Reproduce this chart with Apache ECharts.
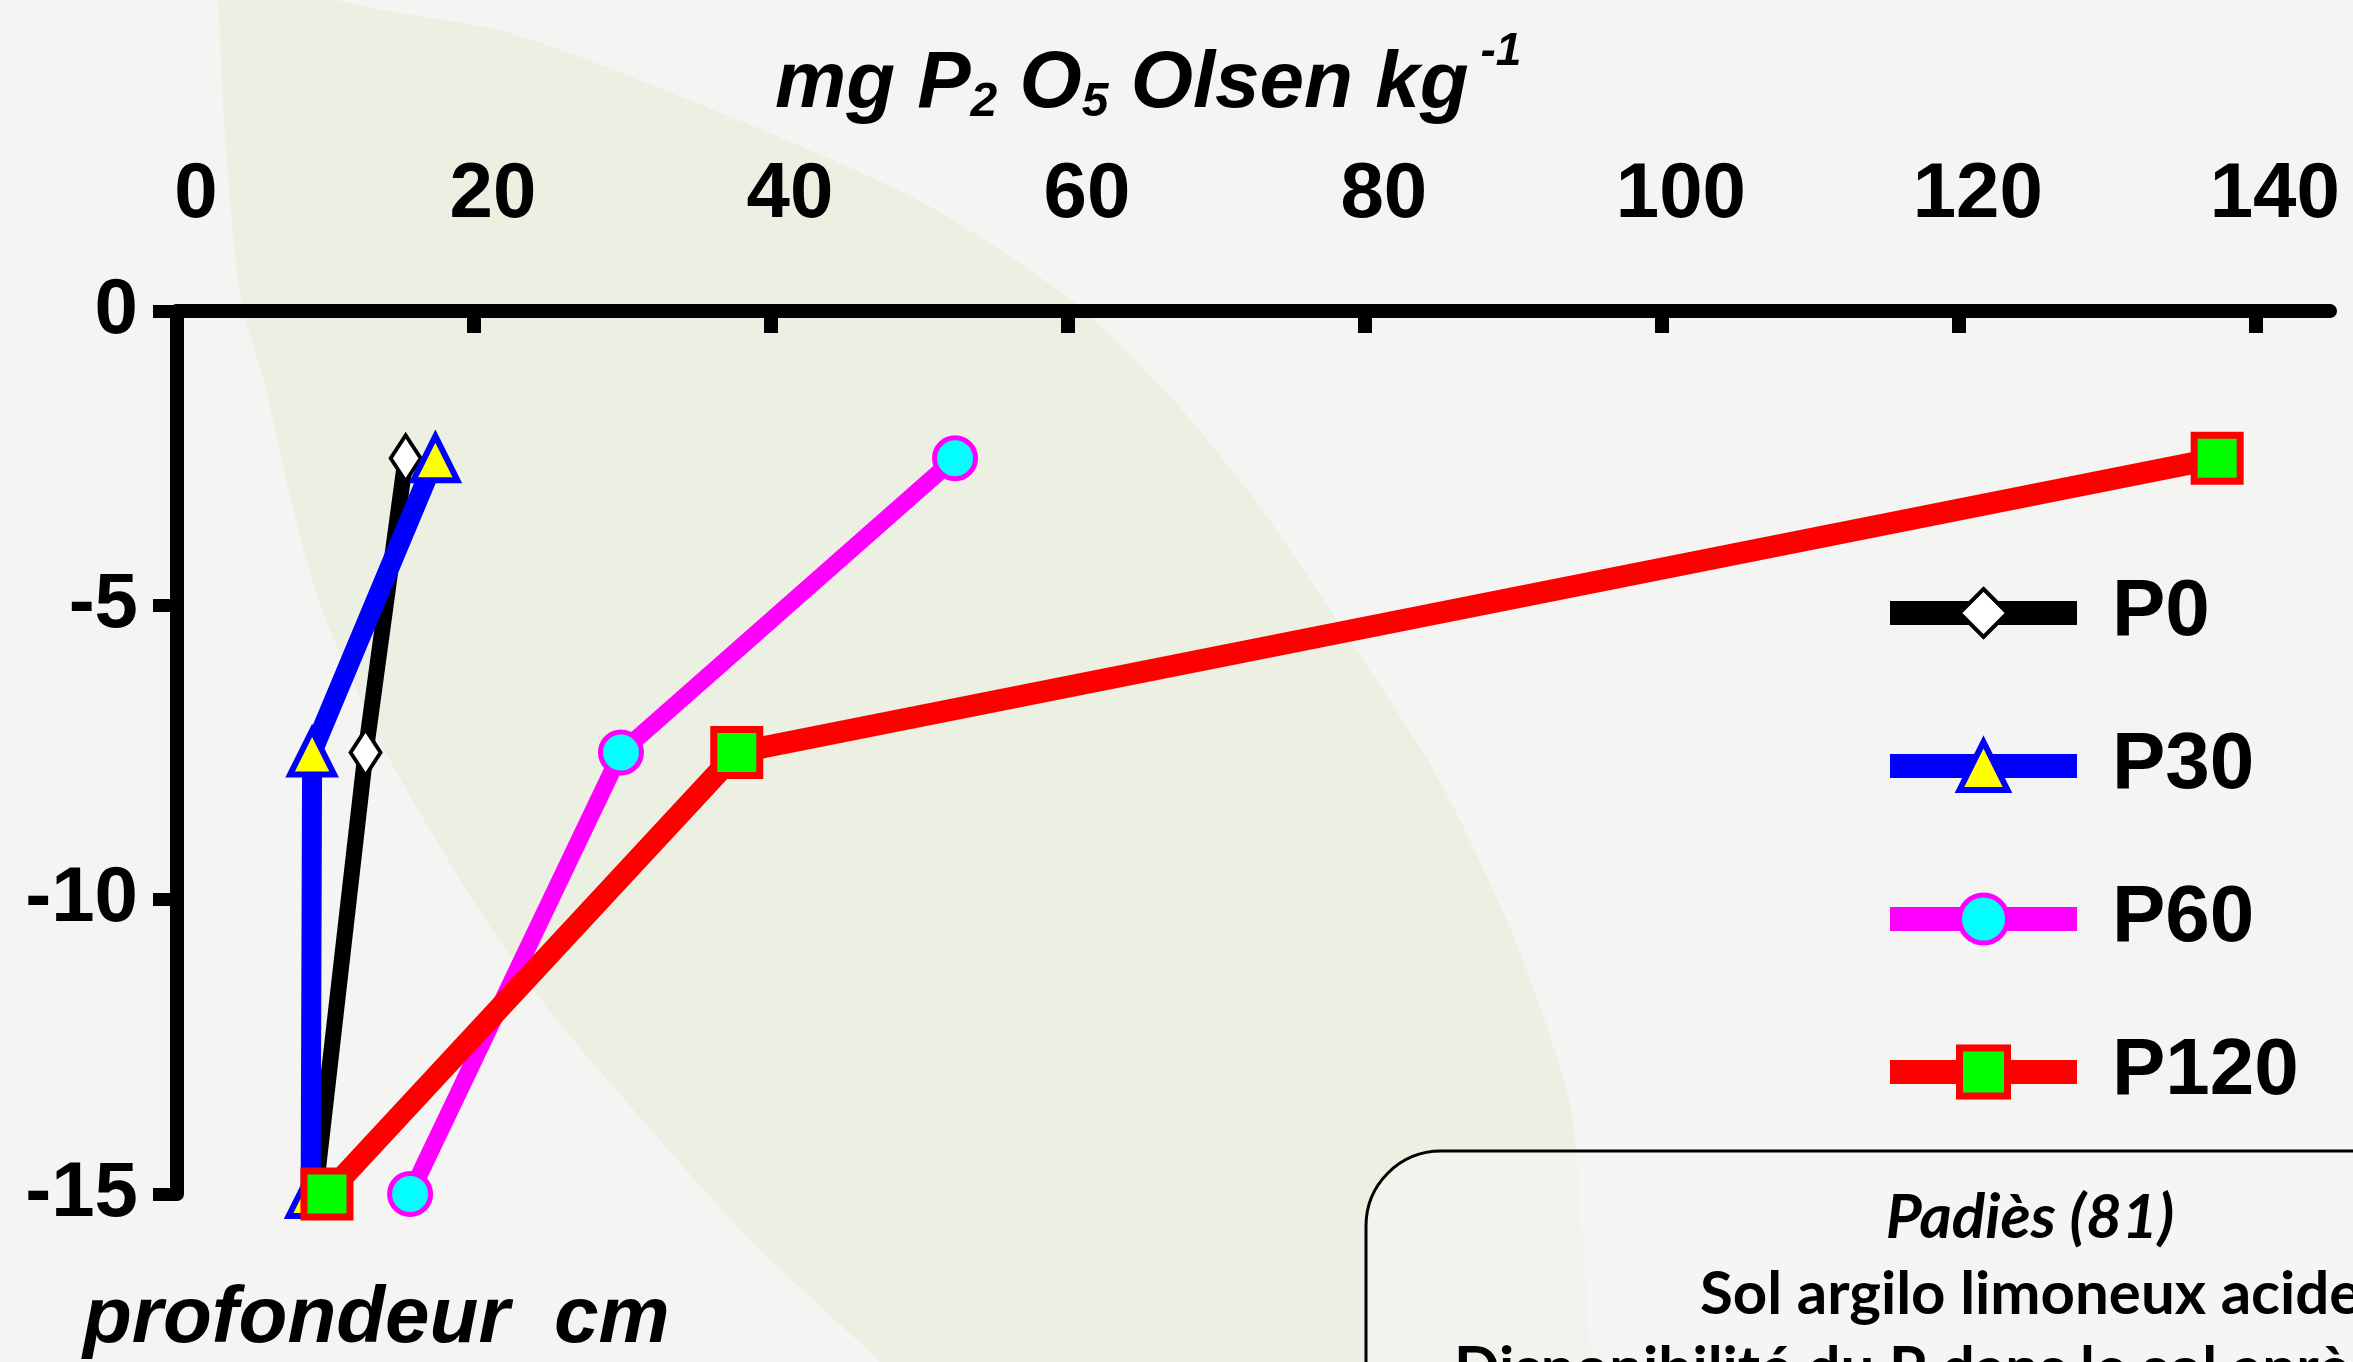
<!DOCTYPE html>
<html>
<head>
<meta charset="utf-8">
<title>P Olsen - profondeur</title>
<script src="https://cdn.jsdelivr.net/npm/echarts@6/dist/echarts.min.js"></script>
<style>
  html, body { margin: 0; padding: 0; background: #f4f4f3; }
  #chart { width: 2353px; height: 1362px; }
</style>
</head>
<body>
<div id="chart"></div>
<script>
// profondeurs de prélèvement (cm)
const depths = [-2.5, -7.5, -15]
// P2O5 Olsen (mg/kg) par traitement
const p0 = [15.4, 12.7, 9.3]
const p30 = [17.4, 9.1, 9.0]
const p60 = [52.4, 29.9, 15.7]
const p120 = [137.4, 37.7, 10.1]
const seriesNames = ['P0', 'P30', 'P60', 'P120']
const xTickValues = [0, 20, 40, 60, 80, 100, 120, 140]

const FONT = 'Liberation Sans'

const toPoints = (vals) => depths.map((d, i) => [vals[i], d])

// feuille verte en fond (décor)
const leaf = [
  [216, -40], [218, 0], [226, 150], [241, 300], [265, 385], [291, 500], [322, 610],
  [390, 760], [471, 897], [545, 1005], [625, 1100], [750, 1240], [880, 1362], [930, 1420],
  [1600, 1420], [1592, 1362], [1582, 1230], [1569, 1100], [1515, 940], [1439, 780],
  [1350, 640], [1255, 500], [1173, 400], [1071, 300], [918, 200], [714, 110],
  [510, 33], [337, 0], [270, -40]
]

const chart = echarts.init(document.getElementById('chart'))

const option = {
  animation: false,
  backgroundColor: '#f4f4f3',
  title: [
    {
      text: '{t|mg P}{sub|2}{t| O}{sub|5}{t| Olsen kg}{sup|-1}',
      left: 775,
      top: 35,
      padding: 0,
      textStyle: {
        rich: {
          t: { fontFamily: FONT, fontSize: 80, fontWeight: 'bold', fontStyle: 'italic', color: '#000', lineHeight: 100 },
          sub: { fontFamily: FONT, fontSize: 48, fontWeight: 'bold', fontStyle: 'italic', color: '#000', lineHeight: 50, padding: [36, 0, 0, 0] },
          sup: { fontFamily: FONT, fontSize: 46, fontWeight: 'bold', fontStyle: 'italic', color: '#000', lineHeight: 30, padding: [0, 0, 66, 12] }
        }
      }
    }
  ],
  graphic: [
    {
      type: 'polygon',
      z: -10,
      silent: true,
      shape: { points: leaf, smooth: 0.25 },
      style: { fill: '#ecf0e2' }
    },
    {
      type: 'text',
      x: 83,
      y: 1320,
      style: {
        text: 'profondeur  cm',
        fontFamily: FONT, fontSize: 80, fontWeight: 'bold', fontStyle: 'italic',
        fill: '#000', align: 'left', verticalAlign: 'middle'
      }
    },
    {
      type: 'rect',
      shape: { x: 1366, y: 1151, width: 1200, height: 400, r: 75 },
      style: { fill: 'rgba(246,246,245,0.55)', stroke: '#000', lineWidth: 3 }
    },
    {
      type: 'text',
      x: 2030,
      y: 1218,
      style: {
        text: 'Padiès (81)',
        fontFamily: 'Lato', fontSize: 62, fontWeight: 'bold', fontStyle: 'italic',
        fill: '#000', align: 'center', verticalAlign: 'middle'
      }
    },
    {
      type: 'text',
      x: 1700,
      y: 1295,
      style: {
        text: 'Sol argilo limoneux acide',
        fontFamily: 'Lato', fontSize: 60, fontWeight: 'bold',
        fill: '#000', align: 'left', verticalAlign: 'middle'
      }
    },
    {
      type: 'text',
      x: 1454,
      y: 1370,
      style: {
        text: 'Disponibilité du P dans le sol après',
        fontFamily: 'Lato', fontSize: 60, fontWeight: 'bold',
        fill: '#000', align: 'left', verticalAlign: 'middle'
      }
    }
  ],
  legend: {
    orient: 'vertical',
    left: 1873,
    top: 568,
    itemWidth: 187,
    itemHeight: 60,
    itemGap: 73,
    data: seriesNames,
    textStyle: {
      fontFamily: FONT, fontSize: 80, fontWeight: 'bold', color: '#000',
      lineHeight: 60, padding: [0, 0, 0, 30]
    },
    itemStyle: { borderWidth: 'inherit' },
    lineStyle: { width: 24 }
  },
  grid: {
    left: 177,
    right: 23,
    top: 311,
    bottom: 168
  },
  xAxis: {
    type: 'value',
    position: 'top',
    min: 0,
    max: 145,
    splitLine: { show: false },
    axisLine: { lineStyle: { color: '#000', width: 14 } },
    axisTick: {
      inside: true,
      length: 22,
      customValues: xTickValues,
      lineStyle: { color: '#000', width: 14 }
    },
    axisLabel: {
      customValues: xTickValues,
      margin: 77,
      fontFamily: FONT,
      fontSize: 78,
      fontWeight: 'bold',
      color: '#000',
      lineHeight: 78,
      padding: [0, 0, 0, 38]
    }
  },
  yAxis: {
    type: 'value',
    min: -15,
    max: 0,
    interval: 5,
    splitLine: { show: false },
    axisLine: { lineStyle: { color: '#000', width: 14 } },
    axisTick: { length: 24, lineStyle: { color: '#000', width: 13 } },
    axisLabel: {
      margin: 39,
      fontFamily: FONT,
      fontSize: 78,
      fontWeight: 'bold',
      color: '#000'
    }
  },
  series: [
    {
      name: 'P0',
      type: 'line',
      data: toPoints(p0),
      symbol: 'diamond',
      symbolSize: [30, 46],
      lineStyle: { color: '#000000', width: 16 },
      itemStyle: { color: '#ffffff', borderColor: '#000000', borderWidth: 4 }
    },
    {
      name: 'P30',
      type: 'line',
      data: toPoints(p30),
      symbol: 'triangle',
      symbolSize: 44,
      lineStyle: { color: '#0000ff', width: 20 },
      itemStyle: { color: '#ffff00', borderColor: '#0000ff', borderWidth: 6 }
    },
    {
      name: 'P60',
      type: 'line',
      data: toPoints(p60),
      symbol: 'circle',
      symbolSize: 41,
      lineStyle: { color: '#ff00ff', width: 17 },
      itemStyle: { color: '#00ffff', borderColor: '#ff00ff', borderWidth: 5 }
    },
    {
      name: 'P120',
      type: 'line',
      data: toPoints(p120),
      symbol: 'rect',
      symbolSize: 46,
      lineStyle: { color: '#ff0000', width: 22 },
      itemStyle: { color: '#00ff00', borderColor: '#ff0000', borderWidth: 7 }
    }
  ]
}

chart.setOption(option)

window.addEventListener('resize', () => chart.resize())
</script>
</body>
</html>
